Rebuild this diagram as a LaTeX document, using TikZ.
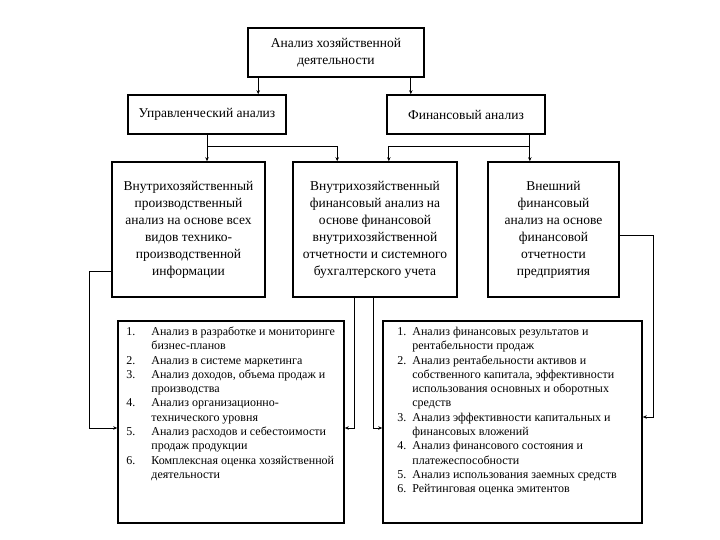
\documentclass[tikz,border=0pt]{standalone}
\usepackage{fontspec}
\setmainfont{Liberation Serif}
\usetikzlibrary{arrows.meta}

\begin{document}
\begin{tikzpicture}[x=1pt, y=-1pt,
    box/.style={draw, line width=1.6pt, align=center, inner sep=2pt,
      font=\fontsize{13.5}{17}\selectfont},
    lst/.style={anchor=north west, inner sep=0pt,
      font=\fontsize{12}{14.3}\selectfont},
    arr/.style={line width=0.8pt, -{Stealth[length=4pt, width=3.5pt]}}]
  \useasboundingbox (0,0) rectangle (720,540);
  \fill[white] (0,0) rectangle (720,540);

  % ── Top level ──
  \node[box, minimum width=176pt, minimum height=49pt] (top) at (336,52.5)
    {Анализ хозяйственной\\деятельности};

  % ── Second level ──
  \node[box, minimum width=158pt, minimum height=39pt] (upr) at (207,114.5)
    {Управленческий анализ};
  \node[box, minimum width=158pt, minimum height=39pt] (fin) at (466,114.5)
    {Финансовый анализ};

  % ── Third level ──
  \node[box, minimum width=153pt, minimum height=135pt] (a) at (188.5,229.5)
    {Внутрихозяйственный\\производственный\\анализ на основе всех\\видов технико-\\производственной\\информации};
  \node[box, minimum width=164pt, minimum height=135pt] (b) at (375,229.5)
    {Внутрихозяйственный\\финансовый анализ на\\основе финансовой\\внутрихозяйственной\\отчетности и системного\\бухгалтерского учета};
  \node[box, minimum width=131pt, minimum height=135pt] (c) at (553.5,229.5)
    {Внешний\\финансовый\\анализ на основе\\финансовой\\отчетности\\предприятия};

  % ── Lists of methods ──
  \node[box, minimum width=226pt, minimum height=202pt] (d) at (231,422) {};
  \node[box, minimum width=259pt, minimum height=202pt] (e) at (512.5,422) {};

  \node[lst] (dlist) at ([xshift=9pt, yshift=-5pt]d.north west) {%
    \begin{tabular}{@{}p{25pt}@{}l@{}}
      1. & Анализ в разработке и мониторинге\\
         & бизнес-планов\\
      2. & Анализ в системе маркетинга\\
      3. & Анализ доходов, объема продаж и\\
         & производства\\
      4. & Анализ организационно-\\
         & технического уровня\\
      5. & Анализ расходов и себестоимости\\
         & продаж продукции\\
      6. & Комплексная оценка хозяйственной\\
         & деятельности
    \end{tabular}};
  \node[lst] (elist) at ([xshift=15pt, yshift=-5pt]e.north west) {%
    \begin{tabular}{@{}p{15pt}@{}l@{}}
      1. & Анализ финансовых результатов и\\
         & рентабельности продаж\\
      2. & Анализ рентабельности активов и\\
         & собственного капитала, эффективности\\
         & использования основных и оборотных\\
         & средств\\
      3. & Анализ эффективности капитальных и\\
         & финансовых вложений\\
      4. & Анализ финансового состояния и\\
         & платежеспособности\\
      5. & Анализ использования заемных средств\\
      6. & Рейтинговая оценка эмитентов
    \end{tabular}};

  % ── Connectors ──
  \draw[arr] ([xshift=11pt]top.south west) -- ([xshift=11pt]top.south west |- upr.north);
  \draw[arr] ([xshift=-14pt]top.south east) -- ([xshift=-14pt]top.south east |- fin.north);

  \draw[arr] (upr.south) -- (upr.south |- a.north);
  \draw[arr] ([yshift=-11.5pt]upr.south) -| ([xshift=45pt]b.north west);
  \draw[arr] ([xshift=-16pt]fin.south east) -- ([xshift=-16pt]fin.south east |- c.north);
  \draw[arr] ([xshift=-16pt, yshift=-11.5pt]fin.south east) -| ([xshift=-69pt]b.north east);

  \draw[arr] ([yshift=-41.5pt]a.west) -- ++(-22,0) |- ([yshift=-6pt]d.west);
  \draw[arr] ([xshift=-21pt]b.south) |- ([yshift=-6pt]d.east);
  \draw[arr] ([xshift=-2pt]b.south) |- ([yshift=-6pt]e.west);
  \draw[arr] ([yshift=-5.5pt]c.east) -- ++(34,0) |- ([yshift=5pt]e.east);

\end{tikzpicture}
\end{document}
